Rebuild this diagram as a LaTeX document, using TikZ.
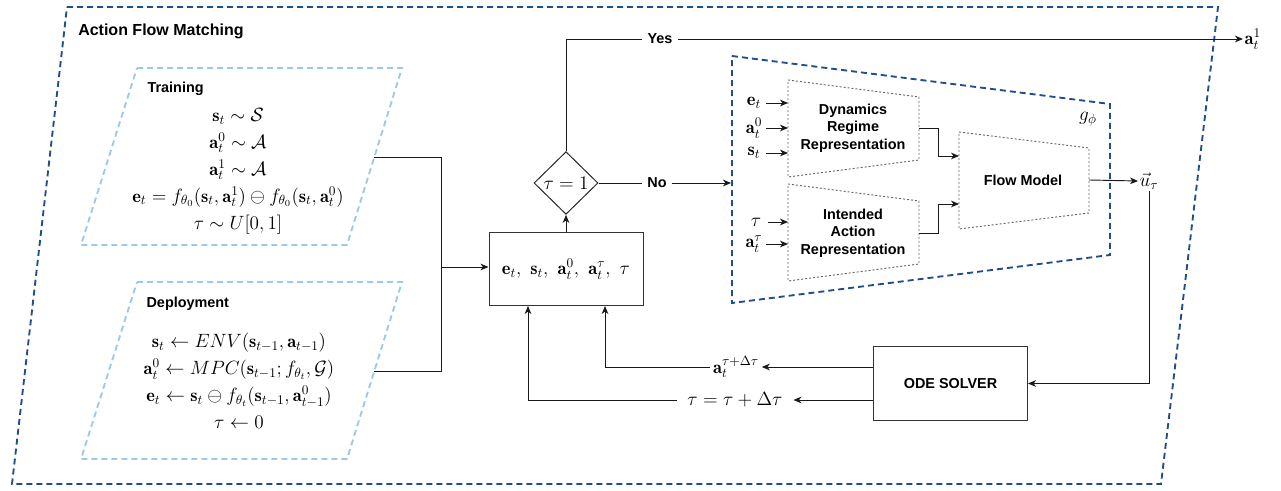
\documentclass[tikz,border=0pt]{standalone}
\usepackage{amsmath,amssymb}
\usepackage{fontspec}
\setsansfont{Liberation Sans}
\usetikzlibrary{arrows.meta,shapes.geometric}
\definecolor{outerblue}{HTML}{1F4E8C}
\definecolor{lightblue}{HTML}{9DC8EA}
\definecolor{dotgray}{HTML}{666666}
\begin{document}
\begin{tikzpicture}[x=0.75pt,y=-0.75pt,
  outerdash/.style={draw=outerblue, line width=1.4pt, dash pattern=on 4.5pt off 3pt},
  lightdash/.style={draw=lightblue, line width=1.4pt, dash pattern=on 4.5pt off 3pt},
  dotbox/.style={draw=dotgray, line width=0.7pt, dash pattern=on 1.5pt off 1.5pt},
  lbl/.style={font=\fontsize{10.8}{13.1}\selectfont\sffamily\bfseries, align=center, inner sep=1pt},
  titlelbl/.style={font=\fontsize{12}{14}\selectfont\sffamily\bfseries, inner sep=0pt},
  mth/.style={font=\fontsize{13.8}{20.2}\selectfont, align=center, inner sep=1pt},
  conn/.style={draw=black!90, line width=0.7pt},
  arr/.style={conn, -{Stealth[length=6pt,width=5pt,inset=1.8pt]}},
  procbox/.style={draw=black!80, line width=0.75pt, minimum width=115.5pt, minimum height=54.75pt, inner sep=0pt},
  inlbl/.style={font=\fontsize{13.8}{16}\selectfont, inner sep=0pt, minimum width=18pt}
]
\useasboundingbox (0,0) rectangle (1281,491);

% outer container
\draw[outerdash] (67,7) -- (1218,7) -- (1161,484) -- (12,484) -- cycle;
\node[titlelbl, anchor=west] (title) at (78,31) {Action Flow Matching};

% training
\draw[lightdash] (137,68) -- (402,68) -- (347,245) -- (81,245) -- cycle;
\node[lbl, anchor=west] (trlabel) at (146,89) {Training};
\node[mth] (trmath) at (238,171) {$\mathbf{s}_t \sim \mathcal{S}$\\
  $\mathbf{a}_t^0 \sim \mathcal{A}$\\
  $\mathbf{a}_t^1 \sim \mathcal{A}$\\
  $\mathbf{e}_t = f_{\theta_0}(\mathbf{s}_t,\mathbf{a}_t^1) \ominus f_{\theta_0}(\mathbf{s}_t,\mathbf{a}_t^0)$\\
  $\tau \sim U[0,1]$};
\coordinate (trout) at (374,157);

% deployment
\draw[lightdash] (137,282) -- (402,282) -- (347,459) -- (81,459) -- cycle;
\node[lbl, anchor=west] (deplabel) at (145,304) {Deployment};
\node[mth] (dpmath) at (239,381) {$\mathbf{s}_t \leftarrow ENV(\mathbf{s}_{t-1},\mathbf{a}_{t-1})$\\
  $\mathbf{a}_t^0 \leftarrow MPC(\mathbf{s}_{t-1}; f_{\theta_t},\mathcal{G})$\\
  $\mathbf{e}_t \leftarrow \mathbf{s}_t \ominus f_{\theta_t}(\mathbf{s}_{t-1},\mathbf{a}_{t-1}^0)$\\
  $\tau \leftarrow 0$};
\coordinate (dpout) at (374,371);

% central box and decision
\node[procbox, mth] (box) at (566,269.5) {$\mathbf{e}_t,\ \mathbf{s}_t,\ \mathbf{a}_t^0,\ \mathbf{a}_t^\tau,\ \tau$};
\node[diamond, draw=black!85, line width=0.75pt, minimum width=48pt, minimum height=47pt, inner sep=0pt, mth] (dia) at (566,183) {$\tau=1$};

\coordinate (join) at (441,267);
\draw[conn] (trout) -| (join);
\draw[conn] (dpout) -| (join);
\draw[arr] (join) -- (join -| box.west);
\draw[arr] (box.north) -- (dia.south);

% output a_t^1
\node[mth, anchor=west, inner sep=1pt] (at1) at (1243,39) {$\mathbf{a}_t^1$};
\draw[arr] (dia.north) |- (at1.west);
\node[lbl, fill=white, inner xsep=4pt] (yes) at (660,39) {Yes};

% g_phi trapezoid
\draw[outerdash] (732,56) -- (1110,104) -- (1110,255) -- (732,303) -- cycle;
\node[mth] (gphi) at (1088,119) {$g_\phi$};
\coordinate (gin) at (731,183);
\draw[arr] (dia.east) -- (gin);
\node[lbl, fill=white, inner xsep=4pt] (no) at (657,183) {No};

% dynamics regime representation
\draw[dotbox] (788,80) -- (919,97) -- (919,160) -- (788,177) -- cycle;
\node[lbl] (dyn) at (853,128) {Dynamics\\Regime\\Representation};
% intended action representation
\draw[dotbox] (788,184) -- (919,201) -- (919,264) -- (788,281) -- cycle;
\node[lbl] (int) at (853,233) {Intended\\Action\\Representation};
% flow model
\draw[dotbox] (959,132) -- (1089,148) -- (1089,213) -- (959,229) -- cycle;
\node[lbl] (flow) at (1023,180) {Flow Model};

\coordinate (dynL) at (788,0);
\coordinate (dynout) at (919,128);
\coordinate (intout) at (919,233);
\coordinate (flowin1) at (959,156);
\coordinate (flowin2) at (959,204);
\coordinate (flowout) at (1089,180);

% inputs
\node[inlbl] (et) at (754,103) {$\mathbf{e}_t$};
\node[inlbl] (a0) at (754,128) {$\mathbf{a}_t^0$};
\node[inlbl] (st) at (754,153) {$\mathbf{s}_t$};
\node[inlbl] (tau) at (756,222) {$\tau$};
\node[inlbl] (atau) at (754,244) {$\mathbf{a}_t^\tau$};
\foreach \n in {et,a0,st,tau,atau} {
  \draw[arr] (\n.east) -- (\n.east -| dynL);
}

\draw[arr] (dynout) -- ++(19,0) |- (flowin1);
\draw[arr] (intout) -- ++(19,0) |- (flowin2);

% u_tau
\node[mth, inner sep=1pt] (ut) at (1149,181) {$\vec{u}_\tau$};
\draw[arr] (flowout) -- (ut.west);

% ODE solver
\node[procbox, lbl] (ode) at (950.5,383.5) {ODE SOLVER};
\draw[arr] (ut.south) |- (ode.east);

\node[mth, inner xsep=2pt] (anext) at (736,367) {$\mathbf{a}_t^{\tau+\Delta\tau}$};
\node[mth, inner xsep=8pt] (tnext) at (735,400) {$\tau=\tau+\Delta\tau$};
\coordinate (boxin1) at (528,306);
\coordinate (boxin2) at (605,306);
\draw[arr] (ode.west |- anext.east) -- (anext.east);
\draw[arr] (anext.west) -| (boxin2);
\draw[arr] (ode.west |- tnext.east) -- (tnext.east);
\draw[arr] (tnext.west) -| (boxin1);
\end{tikzpicture}
\end{document}
